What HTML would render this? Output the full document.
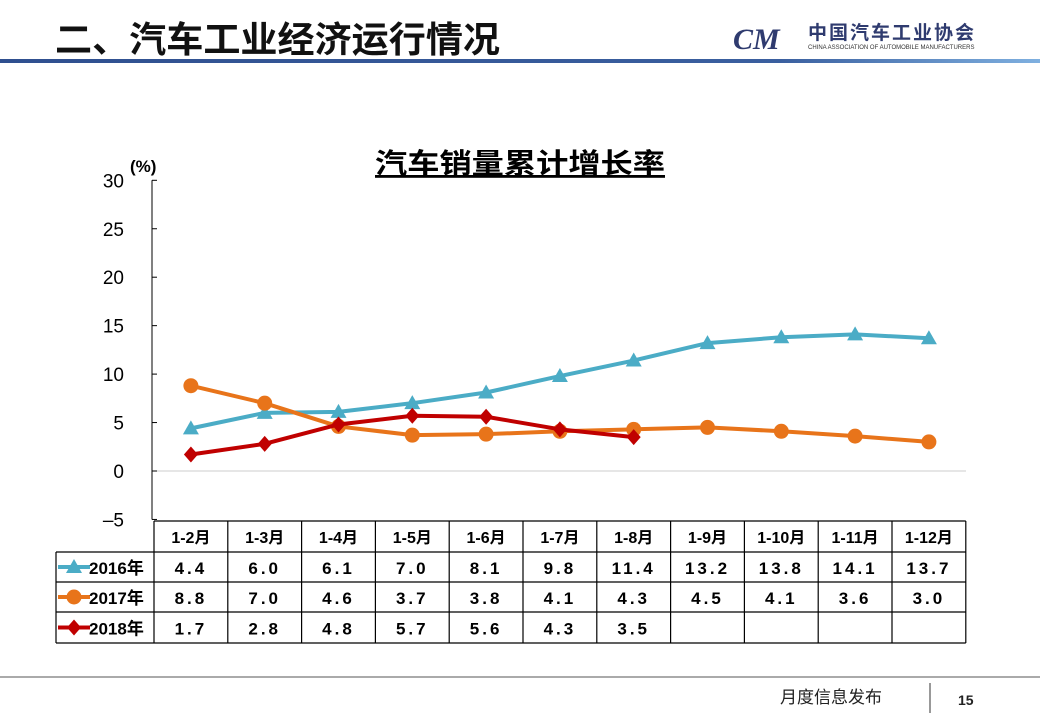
<!DOCTYPE html>
<html><head><meta charset="utf-8"><style>
body{margin:0;width:1040px;height:720px;background:#fff;overflow:hidden;font-family:"Liberation Sans","Noto Sans CJK SC",sans-serif;}
</style></head><body>
<svg width="1040" height="720" xmlns="http://www.w3.org/2000/svg">
<defs><linearGradient id="hg" x1="0" x2="1"><stop offset="0" stop-color="#2f4f8f"/><stop offset="0.75" stop-color="#3a5f9f"/><stop offset="1" stop-color="#7fb0e0"/></linearGradient></defs>
<text x="55" y="52" font-size="36" font-weight="bold" fill="#111" textLength="445" lengthAdjust="spacingAndGlyphs" font-family="Liberation Sans,Noto Sans CJK SC,sans-serif">二、汽车工业经济运行情况</text>
<g>
<text x="733" y="49" font-size="30" font-weight="bold" font-style="italic" fill="#2f3b6f" font-family="Liberation Serif,serif">CM</text>
<text x="808" y="39" font-size="19" font-weight="bold" fill="#2f3b6f" font-family="Liberation Sans,Noto Sans CJK SC,sans-serif" letter-spacing="2">中国汽车工业协会</text>
<text x="808" y="49" font-size="6" fill="#333">CHINA ASSOCIATION OF AUTOMOBILE MANUFACTURERS</text>
</g>
<rect x="0" y="59" width="1040" height="4" fill="url(#hg)"/>
<text x="375" y="173" font-size="28" font-weight="bold" textLength="290" lengthAdjust="spacingAndGlyphs" text-decoration="underline" fill="#000" font-family="Liberation Sans,Noto Sans CJK SC,sans-serif">汽车销量累计增长率</text>
<text x="130" y="172" font-size="17" font-weight="bold" fill="#000" font-family="Liberation Sans,Noto Sans CJK SC,sans-serif">(%)</text>
<g id="chart"></g>
<line x1="0" y1="677" x2="1040" y2="677" stroke="#555" stroke-width="1"/>
<text x="780" y="703" font-size="17" fill="#222" font-family="Liberation Sans,Noto Sans CJK SC,sans-serif">月度信息发布</text>
<line x1="930" y1="683" x2="930" y2="713" stroke="#333"/>
<text x="958" y="705" font-size="14" font-weight="bold" fill="#222">15</text>
</svg>
<script>
const categories=["1-2月","1-3月","1-4月","1-5月","1-6月","1-7月","1-8月","1-9月","1-10月","1-11月","1-12月"];
const seriesNames=["2016年","2017年","2018年"];
const s2016=[4.4,6.0,6.1,7.0,8.1,9.8,11.4,13.2,13.8,14.1,13.7];
const s2017=[8.8,7.0,4.6,3.7,3.8,4.1,4.3,4.5,4.1,3.6,3.0];
const s2018=[1.7,2.8,4.8,5.7,5.6,4.3,3.5];
const yTicks=[30,25,20,15,10,5,0,-5];
const NS="http://www.w3.org/2000/svg";
const g=document.getElementById('chart');
const left=154,colW=73.8;
const y=v=>471-v*9.69;
const x=i=>left+colW*(i+0.5);
function mk(t,a,p){const e=document.createElementNS(NS,t);for(const k in a)e.setAttribute(k,a[k]);(p||g).appendChild(e);return e;}
let ax=mk('line',{x1:152,y1:y(30),x2:152,y2:y(-5),stroke:'#000'});


let zl=mk('line',{x1:152,y1:y(0),x2:966,y2:y(0),stroke:'#ccc'});


yTicks.forEach(v=>{
 let t=mk('line',{x1:152,y1:y(v),x2:157,y2:y(v),stroke:'#000'});
 
 
 let l=mk('text',{x:124,y:y(v)+7,'font-size':19,'text-anchor':'end',fill:'#000'});
 l.textContent=v<0?'\u2013'+(-v):String(v);
 
 
});
const colors=["#4bacc6","#e8741a","#c00000"];
const data=[s2016,s2017,s2018];
function marker(k,cx,cy,p){
 let m;
 if(k==0)m=mk('polygon',{points:`${cx},${cy-8} ${cx+8},${cy+6} ${cx-8},${cy+6}`,fill:colors[k]},p);
 else if(k==1)m=mk('circle',{cx:cx,cy:cy,r:7.5,fill:colors[k]},p);
 else m=mk('polygon',{points:`${cx},${cy-8} ${cx+7},${cy} ${cx},${cy+8} ${cx-7},${cy}`,fill:colors[k]},p);
 return m;
}
data.forEach((s,k)=>{
 const pts=s.map((v,i)=>x(i)+','+y(v)).join(' ');
 let pl=mk('polyline',{points:pts,fill:'none',stroke:colors[k],'stroke-width':4,'stroke-linejoin':'round'});
 
 
 s.forEach((v,i)=>{let m=marker(k,x(i),y(v));
  
  });
});
const rowsY=[521,552,582,612,643];
const right=left+colW*11;
function L(x1,y1,x2,y2){let l=mk('line',{x1,y1,x2,y2,stroke:'#000','stroke-width':1.2});
 
 }
L(left,521,right,521);L(56,552,right,552);L(56,582,right,582);L(56,612,right,612);L(56,643,right,643);
L(56,552,56,643);
for(let i=0;i<=11;i++)L(left+colW*i,521,left+colW*i,643);
categories.forEach((c,i)=>{let t=mk('text',{x:x(i),y:543,'font-size':16,'font-weight':'bold','text-anchor':'middle',fill:'#000','font-family':'Liberation Sans,Noto Sans CJK SC,sans-serif'});
 t.textContent=c;
 
 });
data.forEach((s,k)=>{
 const cy=(rowsY[k+1]+rowsY[k+2])/2;
 let ln=mk('line',{x1:58,y1:cy,x2:90,y2:cy,stroke:colors[k],'stroke-width':4});
 
 
 let m=marker(k,74,cy);
 
 
 let t=mk('text',{x:89,y:cy+7,'font-size':17,'font-weight':'bold',fill:'#000','font-family':'Liberation Sans,Noto Sans CJK SC,sans-serif'});
 t.textContent=seriesNames[k];
 
 
 s.forEach((v,i)=>{let c=mk('text',{x:x(i),y:cy+7,'font-size':17,'font-weight':'bold','text-anchor':'middle',fill:'#000','letter-spacing':'3'});
  c.textContent=v.toFixed(1);
  
  });
});
</script>
</body></html>
